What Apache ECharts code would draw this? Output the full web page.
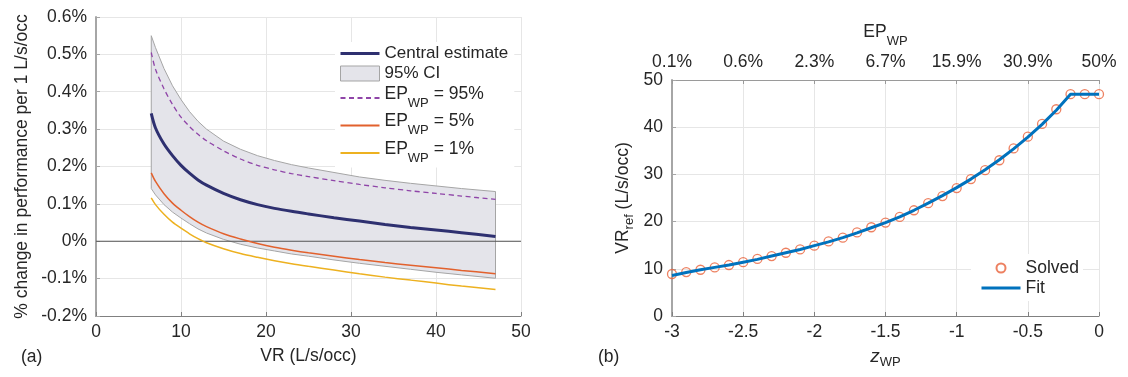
<!DOCTYPE html>
<html>
<head>
<meta charset="utf-8">
<script src="https://cdn.jsdelivr.net/npm/echarts@6/dist/echarts.min.js"></script>
<style>
  html, body { margin: 0; padding: 0; background: #fff; }
  #chart { width: 1128px; height: 377px; }
</style>
</head>
<body>
<div id="chart"></div>
<script>
// ---- (a) effect of ventilation rate on performance, % per 1 L/s/occ ----
const vrGrid    = [6.5, 7, 8, 9, 10, 11, 12, 13, 15, 17, 19, 21, 23, 25, 28, 31, 34, 37, 40, 43, 47];
const central   = [0.342, 0.303, 0.260, 0.229, 0.203, 0.182, 0.164, 0.150, 0.128, 0.111, 0.098, 0.088, 0.080, 0.073, 0.063, 0.054, 0.045, 0.037, 0.030, 0.023, 0.013];
const ciUpper   = [0.550, 0.518, 0.462, 0.416, 0.379, 0.347, 0.321, 0.300, 0.268, 0.246, 0.229, 0.216, 0.205, 0.196, 0.184, 0.172, 0.163, 0.155, 0.148, 0.141, 0.133];
const ciLower   = [0.141, 0.124, 0.098, 0.078, 0.062, 0.047, 0.033, 0.022, 0.005, -0.008, -0.018, -0.026, -0.034, -0.040, -0.050, -0.059, -0.067, -0.075, -0.083, -0.090, -0.099];
const ep95      = [0.505, 0.460, 0.408, 0.366, 0.332, 0.307, 0.286, 0.269, 0.242, 0.220, 0.203, 0.191, 0.181, 0.173, 0.162, 0.152, 0.143, 0.135, 0.128, 0.121, 0.112];
const ep5       = [0.183, 0.160, 0.127, 0.102, 0.083, 0.066, 0.051, 0.039, 0.020, 0.006, -0.006, -0.016, -0.024, -0.031, -0.040, -0.049, -0.057, -0.064, -0.071, -0.078, -0.087];
const ep1       = [0.116, 0.098, 0.072, 0.051, 0.035, 0.020, 0.007, -0.004, -0.020, -0.033, -0.043, -0.052, -0.060, -0.067, -0.077, -0.087, -0.096, -0.104, -0.112, -0.120, -0.129];
const zeroLine  = [[0, 0], [50, 0]];

// ---- (b) reference ventilation rate vs. z_WP ----
const zWP      = [-3, -2.9, -2.8, -2.7, -2.6, -2.5, -2.4, -2.3, -2.2, -2.1, -2, -1.9, -1.8, -1.7, -1.6, -1.5, -1.4, -1.3, -1.2, -1.1, -1, -0.9, -0.8, -0.7, -0.6, -0.5, -0.4, -0.3, -0.2, -0.1, 0];
const vrSolved = [8.9, 9.3, 9.8, 10.3, 10.8, 11.4, 12.1, 12.7, 13.4, 14.1, 14.9, 15.8, 16.6, 17.7, 18.8, 19.8, 21.0, 22.4, 23.9, 25.4, 27.1, 29.0, 30.9, 33.0, 35.5, 38.0, 40.7, 43.8, 47.0, 47.0, 47.0];
const vrFit    = [8.6, 9.2, 9.8, 10.3, 10.8, 11.4, 12.0, 12.7, 13.4, 14.1, 14.9, 15.7, 16.6, 17.6, 18.7, 19.8, 21.0, 22.4, 23.9, 25.5, 27.2, 29.0, 31.0, 33.1, 35.4, 37.9, 40.6, 43.6, 47.0, 47.0, 47.0];
const epTickLabels = ['0.1%', '0.6%', '2.3%', '6.7%', '15.9%', '30.9%', '50%'];

const FONT = '"Liberation Sans", Helvetica, Arial, sans-serif';
const TXT = '#262626';
const FS = 17.5;
const GRIDC = '#e6e6e6';

const pairs = (xs, ys) => xs.map((x, i) => [x, ys[i]]);
const pct = v => (Math.round(v * 10) / 10) + '%';

const subRich = {
  m: { fontSize: FS, color: TXT, fontFamily: FONT, padding: [0, 0, 8, 0] },
  s: { fontSize: 13, color: TXT, fontFamily: FONT, padding: [10, 0, 0, 0] }
};

const legendNames = {
  'EP95': '{m|EP}{s|WP}{m| = 95%}',
  'EP5': '{m|EP}{s|WP}{m| = 5%}',
  'EP1': '{m|EP}{s|WP}{m| = 1%}'
};

function axisBase(lineColor, lineWidth) {
  return {
    axisLine: { show: true, onZero: false, lineStyle: { color: lineColor, width: lineWidth } },
    axisTick: { show: true, inside: true, length: 4, lineStyle: { color: lineColor } },
    axisLabel: { fontSize: FS, color: TXT, fontFamily: FONT },
    splitLine: { show: true, lineStyle: { color: GRIDC, width: 1 } }
  };
}

const chart = echarts.init(document.getElementById('chart'), null, { renderer: 'canvas' });

const option = {
  animation: false,
  textStyle: { fontFamily: FONT },
  grid: [
    { left: 96, top: 17, width: 425, height: 299 },
    { left: 672, top: 80, width: 427, height: 236 }
  ],
  xAxis: [
    Object.assign(axisBase('#808080', 1), {
      gridIndex: 0, type: 'value', min: 0, max: 50, interval: 10,
      name: 'VR (L/s/occ)', nameLocation: 'middle', nameGap: 31,
      nameTextStyle: { fontSize: FS, color: TXT, fontFamily: FONT },
      axisLabel: { fontSize: FS, color: TXT, fontFamily: FONT, margin: 7 }
    }),
    Object.assign(axisBase('#808080', 1), {
      gridIndex: 1, type: 'value', min: -3, max: 0, interval: 0.5,
      name: '{i|z}{s|WP}', nameLocation: 'middle', nameGap: 28,
      nameTextStyle: { rich: {
        i: { fontSize: 19, fontStyle: 'italic', color: TXT, fontFamily: FONT },
        s: { fontSize: 13, color: TXT, fontFamily: FONT, padding: [12, 0, 0, 0] }
      } },
      axisLabel: { fontSize: FS, color: TXT, fontFamily: FONT, margin: 7 }
    }),
    Object.assign(axisBase('#9a9a9a', 1), {
      gridIndex: 1, type: 'value', position: 'top', min: -3, max: 0, interval: 0.5,
      name: '{m|EP}{s|WP}', nameLocation: 'middle', nameGap: 29,
      nameTextStyle: { rich: subRich },
      axisLabel: {
        fontSize: FS, color: TXT, fontFamily: FONT, margin: 9,
        formatter: v => epTickLabels[Math.round((v + 3) / 0.5)]
      },
      splitLine: { show: false }
    })
  ],
  yAxis: [
    Object.assign(axisBase('#a6a6a6', 2), {
      gridIndex: 0, type: 'value', min: -0.2, max: 0.6, interval: 0.1,
      name: '% change in performance per 1 L/s/occ', nameLocation: 'middle', nameGap: 65,
      nameTextStyle: { fontSize: FS, color: TXT, fontFamily: FONT },
      axisLabel: { fontSize: FS, color: TXT, fontFamily: FONT, margin: 9, formatter: pct }
    }),
    Object.assign(axisBase('#a6a6a6', 2), {
      gridIndex: 1, type: 'value', min: 0, max: 50, interval: 10,
      name: '{v|VR}{s|ref}{v| (L/s/occ)}', nameLocation: 'middle', nameGap: 36,
      nameTextStyle: { rich: {
        v: { fontSize: FS, color: TXT, fontFamily: FONT },
        s: { fontSize: 13, color: TXT, fontFamily: FONT, padding: [12, 0, 0, 0] }
      } },
      axisLabel: { fontSize: FS, color: TXT, fontFamily: FONT, margin: 9 }
    })
  ],
  legend: [
    {
      left: 335, top: 42, orient: 'vertical',
      padding: [3, 6, 3, 4], itemGap: 3, itemWidth: 39, itemHeight: 15,
      backgroundColor: '#ffffff',
      itemStyle: { opacity: 0 },
      textStyle: { fontSize: 17, color: TXT, fontFamily: FONT, rich: subRich },
      formatter: name => legendNames[name] || name,
      data: [
        { name: 'Central estimate', lineStyle: { width: 3 } },
        { name: '95% CI', icon: 'rect', itemStyle: { color: '#e4e4ea', borderColor: '#a5a5a5', borderWidth: 1, opacity: 1 } },
        'EP95', 'EP5', 'EP1'
      ]
    },
    {
      left: 971, top: 254, orient: 'vertical',
      padding: [5, 4, 4, 9], itemGap: 2, itemWidth: 39, itemHeight: 9,
      backgroundColor: '#ffffff',
      textStyle: { fontSize: 17.5, color: TXT, fontFamily: FONT },
      data: ['Solved', { name: 'Fit', itemStyle: { opacity: 0 }, lineStyle: { width: 3 } }]
    }
  ],
  series: [
    {
      name: '95% CI', type: 'custom', xAxisIndex: 0, yAxisIndex: 0, z: 1,
      data: [[vrGrid[0], ciUpper[0]]],
      renderItem: function (params, api) {
        const pts = [];
        for (let i = 0; i < vrGrid.length; i++) pts.push(api.coord([vrGrid[i], ciUpper[i]]));
        for (let i = vrGrid.length - 1; i >= 0; i--) pts.push(api.coord([vrGrid[i], ciLower[i]]));
        return {
          type: 'polygon',
          shape: { points: pts },
          style: { fill: '#e4e4ea', stroke: '#a5a5a5', lineWidth: 1 }
        };
      }
    },
    {
      name: 'zero', type: 'line', xAxisIndex: 0, yAxisIndex: 0, z: 2,
      data: zeroLine, symbol: 'none', silent: true,
      lineStyle: { color: '#555555', width: 1.2 }
    },
    {
      name: 'EP1', type: 'line', xAxisIndex: 0, yAxisIndex: 0, z: 3,
      data: pairs(vrGrid, ep1), symbol: 'none', smooth: 0.3,
      itemStyle: { color: '#edb120' }, lineStyle: { color: '#edb120', width: 1.5 }
    },
    {
      name: 'EP5', type: 'line', xAxisIndex: 0, yAxisIndex: 0, z: 3,
      data: pairs(vrGrid, ep5), symbol: 'none', smooth: 0.3,
      itemStyle: { color: '#e2612d' }, lineStyle: { color: '#e2612d', width: 1.5 }
    },
    {
      name: 'EP95', type: 'line', xAxisIndex: 0, yAxisIndex: 0, z: 3,
      data: pairs(vrGrid, ep95), symbol: 'none', smooth: 0.3,
      itemStyle: { color: '#8f45a8' }, lineStyle: { color: '#8f45a8', width: 1.3, type: [5, 3.5] }
    },
    {
      name: 'Central estimate', type: 'line', xAxisIndex: 0, yAxisIndex: 0, z: 4,
      data: pairs(vrGrid, central), symbol: 'none', smooth: 0.3,
      itemStyle: { color: '#2e3070' }, lineStyle: { color: '#2e3070', width: 3 }
    },
    {
      name: 'Solved', type: 'scatter', xAxisIndex: 1, yAxisIndex: 1, z: 3,
      data: pairs(zWP, vrSolved), symbol: 'circle', symbolSize: 9,
      itemStyle: { color: 'rgba(255,255,255,0)', borderColor: '#e8623a', borderWidth: 1.3 }
    },
    {
      name: 'Fit', type: 'line', xAxisIndex: 1, yAxisIndex: 1, z: 4,
      data: pairs(zWP, vrFit), symbol: 'none',
      itemStyle: { color: '#0072bd' }, lineStyle: { color: '#0072bd', width: 3 }
    }
  ],
  graphic: [
    { type: 'text', left: 21, top: 348, style: { text: '(a)', fontSize: FS, fill: TXT, fontFamily: FONT } },
    { type: 'text', left: 598, top: 348, style: { text: '(b)', fontSize: FS, fill: TXT, fontFamily: FONT } }
  ]
};

chart.setOption(option);
</script>
</body>
</html>
